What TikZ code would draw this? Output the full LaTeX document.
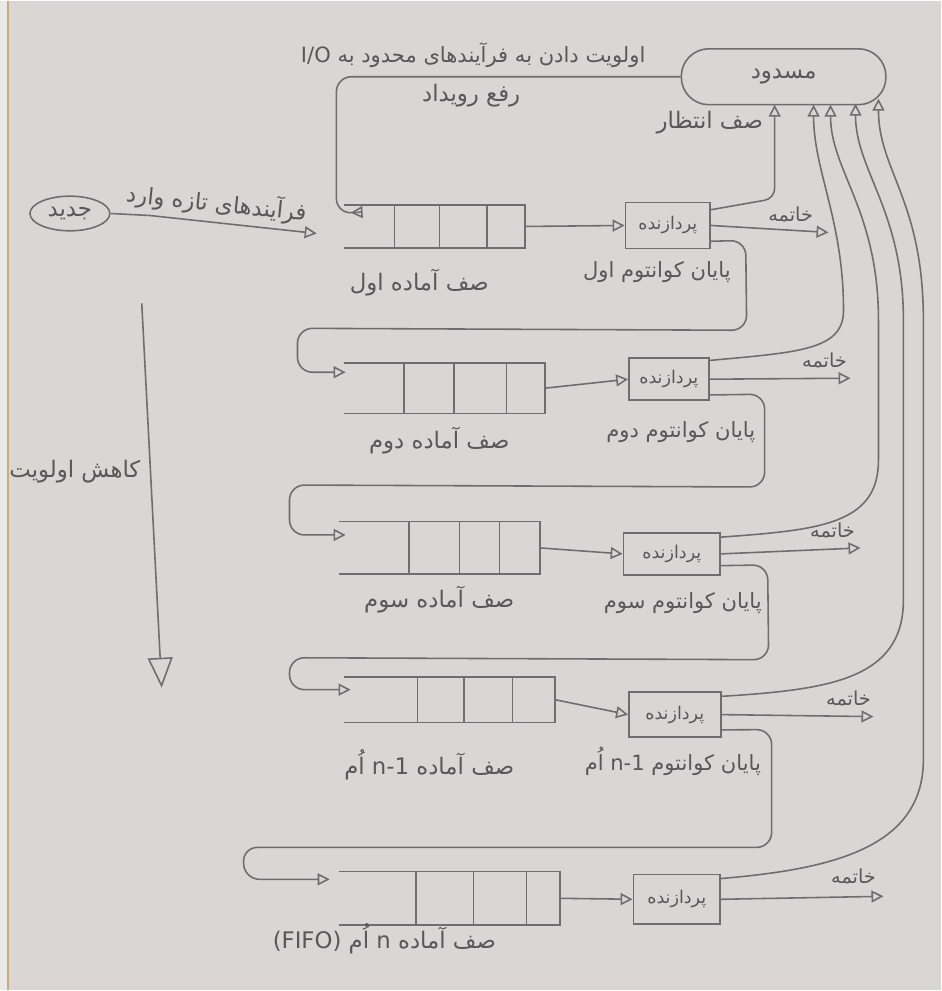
\documentclass[tikz,border=0pt]{standalone}
\usepackage{fontspec}
\usetikzlibrary{arrows.meta,calc,shapes.geometric,positioning}
\newfontfamily\fa[Script=Arabic]{DejaVu Sans}
\TeXXeTstate=1
\newcommand{\fatext}[1]{{\fa\beginR #1\endR}}
\definecolor{paper}{RGB}{217,214,211}
\definecolor{pencil}{RGB}{112,110,108}
\definecolor{ink}{RGB}{90,88,86}

\begin{document}
\begin{tikzpicture}[x=0.02cm,y=-0.02cm,color=pencil,line width=0.9pt,
  >={Triangle[open,length=2.4mm,width=2.4mm]},
  lbl/.style={text=ink,font=\fontsize{13}{16}\selectfont},
  klbl/.style={text=ink,font=\fontsize{12}{14}\selectfont},
  cpu/.style={draw,inner sep=0pt,text=ink,font=\fontsize{10}{12}\selectfont},
  queue/.style={inner sep=0pt},
  loop/.style={->,rounded corners=0.3cm}]

  % paper
  \fill[paper] (0,0) rectangle (943,991);
  \fill[paper!55!white] (0,0) rectangle (7,991);
  \draw[brown!55!paper,line width=1pt] (8,0) -- (8,991);
  \useasboundingbox (0,0) rectangle (943,991);

  % blocked processes
  \node[draw,rounded corners=0.55cm,minimum width=4.1cm,minimum height=1.12cm,lbl] (blk) at (785,76) {\fatext{مسدود}};
  \node[klbl] (prio) at (474,54) {\fatext{اولویت دادن به فرآیندهای محدود به \beginL I/O\endL}};
  \node[lbl] (evt) at (472,95) {\fatext{رفع رویداد}};
  \node[lbl] (wait) at (711,122) {\fatext{صف انتظار}};
  \coordinate (w1) at (776,104);
  \coordinate (w2) at (815,104);
  \coordinate (w3) at (832,104);
  \coordinate (w4) at (857,103);
  \coordinate (w5) at (880,98);

  % new processes
  \node[draw,ellipse,minimum width=1.6cm,minimum height=0.68cm,lbl] (new) at (70,213) {\fatext{جدید}};
  \node[lbl,rotate=-6] (arr) at (217,203) {\fatext{فرآیندهای تازه وارد}};

  % ready queues
  \node[queue,minimum width=3.6cm,minimum height=0.84cm] (q1) at (435,226) {};
  \node[queue,minimum width=4.0cm,minimum height=0.98cm] (q2) at (445,388) {};
  \node[queue,minimum width=4.0cm,minimum height=1.02cm] (q3) at (440,548) {};
  \node[queue,minimum width=4.2cm,minimum height=0.88cm] (q4) at (450,700) {};
  \node[queue,minimum width=4.4cm,minimum height=1.04cm] (q5) at (450,899) {};
  \foreach \q/\a/\b/\c in {q1/.28/.53/.79,q2/.30/.55/.81,q3/.35/.60/.80,q4/.35/.57/.80,q5/.35/.61/.85}{
    \draw (\q.north west) -- (\q.north east) -- (\q.south east) -- (\q.south west);
    \foreach \f in {\a,\b,\c}
      \draw ($(\q.north west)!\f!(\q.north east)$) -- ($(\q.south west)!\f!(\q.south east)$);
  }
  \node[lbl] (ql1) at (420,282) {\fatext{صف آماده اول}};
  \node[lbl] (ql2) at (440,440) {\fatext{صف آماده دوم}};
  \node[lbl] (ql3) at (440,600) {\fatext{صف آماده سوم}};
  \node[lbl] (ql4) at (430,765) {\fatext{صف آماده \beginL n-1\endL{} اُم}};
  \node[lbl] (ql5) at (385,940) {\fatext{صف آماده \beginL n\endL{} اُم \beginL(FIFO)\endL}};

  % processors
  \node[cpu,minimum width=1.7cm,minimum height=0.92cm] (p1) at (669,225) {\fatext{پردازنده}};
  \node[cpu,minimum width=1.6cm,minimum height=0.84cm] (p2) at (670,379) {\fatext{پردازنده}};
  \node[cpu,minimum width=1.94cm,minimum height=0.84cm] (p3) at (673,554) {\fatext{پردازنده}};
  \node[cpu,minimum width=1.84cm,minimum height=0.9cm] (p4) at (676,715) {\fatext{پردازنده}};
  \node[cpu,minimum width=1.74cm,minimum height=1.0cm] (p5) at (678,900) {\fatext{پردازنده}};
  \node[klbl] (kl1) at (658,272) {\fatext{پایان کوانتوم اول}};
  \node[klbl] (kl2) at (682,432) {\fatext{پایان کوانتوم دوم}};
  \node[klbl] (kl3) at (684,603) {\fatext{پایان کوانتوم سوم}};
  \node[klbl] (kl4) at (674,762) {\fatext{پایان کوانتوم \beginL n-1\endL{} اُم}};

  % exits
  \coordinate (e1) at (830,232);
  \coordinate (e2) at (852,378);
  \coordinate (e3) at (862,548);
  \coordinate (e4) at (875,717);
  \coordinate (e5) at (885,897);
  \foreach \p/\e/\x/\y in {p1/e1/792/214,p2/e2/826/360,p3/e3/834/530,p4/e4/850/699,p5/e5/855/877}{
    \draw[->] (\p.east) -- (\e);
    \node[lbl,font=\fontsize{11}{13}\selectfont] at (\x,\y) {\fatext{خاتمه}};
  }

  % connectors
  \draw[loop] (blk.west) -- (337,76) -- (337,213) -- ($(q1.north west)+(7,8)$);
  \draw[->] (new.east) -- (150,215) -- ($(q1.west)+(-27,7)$);
  \foreach \i in {1,...,5}
    \draw[->] (q\i.east) -- (p\i.west);
  \draw[loop] ($(p1.south east)+(0,-8)$) -- (747,240) -- (748,330) -- (298,328) -- (298,372) -- ($(q2.west)+(2,-16)$);
  \draw[loop] ($(p2.south east)+(0,-6)$) -- (766,394) -- (766,487) -- (290,485) -- (290,535) -- ($(q3.west)+(7,-13)$);
  \draw[loop] ($(p3.south east)+(0,-10)$) -- (769,565) -- (770,660) -- (290,658) -- (290,690) -- ($(q4.west)+(7,-10)$);
  \draw[loop] ($(p4.south east)+(0,-8)$) -- (773,730) -- (773,848) -- (243,848) -- (245,880) -- ($(q5.west)+(-9,-19)$);

  % to blocked
  \draw[->,rounded corners=0.2cm] ($(p1.north east)+(0,8)$) -- (776,198) -- (w1);
  \draw[->] ($(p2.north east)+(0,3)$) .. controls (800,352) and (845,350) .. (845,310) .. controls (845,220) and (815,170) .. (w2);
  \draw[->] ($(p3.north east)+(0,5)$) .. controls (820,530) and (880,525) .. (880,460) -- (880,320) .. controls (880,210) and (832,170) .. (w3);
  \draw[->] ($(p4.north east)+(0,5)$) .. controls (830,690) and (905,680) .. (905,600) -- (905,320) .. controls (905,210) and (857,170) .. (w4);
  \draw[->] ($(p5.north east)+(0,5)$) .. controls (830,870) and (925,850) .. (925,760) -- (925,320) .. controls (925,200) and (880,170) .. (w5);

  % priority
  \coordinate (dn1) at (142,303);
  \coordinate (dn2) at (162,688);
  \draw[-{Triangle[open,length=6mm,width=5mm]}] (dn1) -- (dn2);
  \node[lbl] (dnl) at (75,472) {\fatext{کاهش اولویت}};
\end{tikzpicture}
\end{document}
